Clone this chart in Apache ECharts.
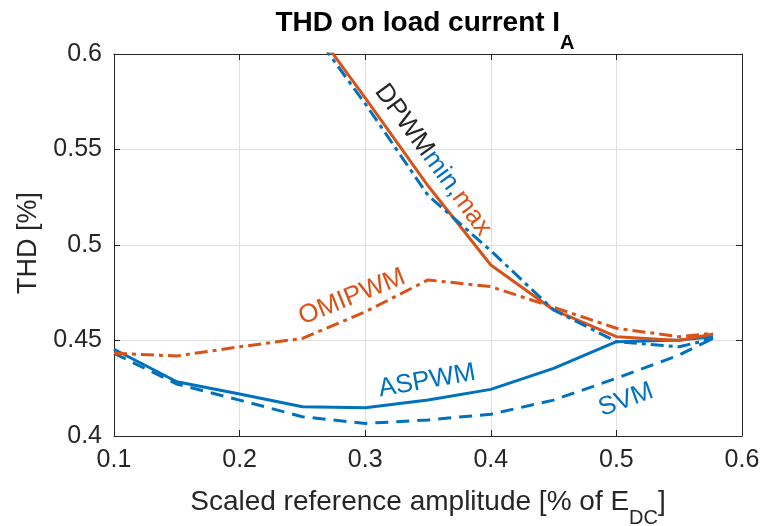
<!DOCTYPE html>
<html>
<head>
<meta charset="utf-8">
<script src="https://cdn.jsdelivr.net/npm/echarts@6/dist/echarts.min.js"></script>
<style>
html,body{margin:0;padding:0;background:#fff;}
#chart{width:764px;height:526px;}
</style>
</head>
<body>
<div id="chart"></div>
<script>
// ---- data ----
const xValues = [0.1, 0.15, 0.2, 0.25, 0.3, 0.35, 0.4, 0.45, 0.5, 0.55, 0.577];
const dpwmMax = [0.78, 0.725, 0.672, 0.622, 0.577, 0.531, 0.4895, 0.466, 0.452, 0.450, 0.4534];
const dpwmMin = [0.77, 0.718, 0.666, 0.619, 0.574, 0.526, 0.497, 0.466, 0.4494, 0.4467, 0.451];
const omipwm  = [0.4433, 0.4419, 0.4467, 0.4511, 0.465, 0.4817, 0.4782, 0.4674, 0.4564, 0.452, 0.4538];
const aspwm   = [0.4454, 0.4284, 0.422, 0.4153, 0.4148, 0.4188, 0.4244, 0.4354, 0.4494, 0.4503, 0.452];
const svm     = [0.4433, 0.4272, 0.4188, 0.4101, 0.4066, 0.4084, 0.4114, 0.4188, 0.4302, 0.4424, 0.4511];
const xTickLabels = ['0.1', '0.2', '0.3', '0.4', '0.5', '0.6'];
const yTickLabels = ['0.4', '0.45', '0.5', '0.55', '0.6'];

const BLUE = '#0072BD', ORANGE = '#D95319', INK = '#262626';
const FONT = '"Liberation Sans", Arial, Helvetica, sans-serif';
const pairs = arr => xValues.map((x, i) => [x, arr[i]]);
const xFmt = v => { const i = Math.round((v - 0.1) / 0.1); return xTickLabels[i] !== undefined ? xTickLabels[i] : ''; };
const yFmt = v => { const i = Math.round((v - 0.4) / 0.05); return yTickLabels[i] !== undefined ? yTickLabels[i] : ''; };

const chart = echarts.init(document.getElementById('chart'), null, {renderer: 'canvas'});
const deg = d => d * Math.PI / 180;
function rs(size, color, bold, extra) {
  return Object.assign({fontSize: size, fontFamily: FONT, fontWeight: bold ? 'bold' : 'normal', fill: color, color: color}, extra || {});
}
function label(x, y, angle, text, rich, size) {
  return {
    type: 'text', x: x, y: y, rotation: deg(angle), z: 100,
    style: {
      text: text, x: 0, y: 0, rich: rich,
      font: size + 'px ' + FONT, fontSize: size, fontFamily: FONT,
      align: 'center', verticalAlign: 'middle',
      textAlign: 'center', textVerticalAlign: 'middle'
    }
  };
}

const option = {
  backgroundColor: '#fff',
  animation: false,
  grid: {left: 114, right: 22, top: 54, bottom: 90, containLabel: false},
  xAxis: [{
    type: 'value', min: 0.1, max: 0.6, interval: 0.1, position: 'bottom',
    axisLine: {show: true, onZero: false, lineStyle: {color: INK, width: 1}},
    axisTick: {show: true, inside: true, length: 6, lineStyle: {color: INK}},
    axisLabel: {show: true, color: INK, fontSize: 25, fontFamily: FONT, margin: 12, formatter: xFmt},
    splitLine: {show: true, lineStyle: {color: '#dfdfdf', width: 1}}
  }, {
    type: 'value', min: 0.1, max: 0.6, interval: 0.1, position: 'top',
    axisLine: {show: true, onZero: false, lineStyle: {color: INK, width: 1}},
    axisTick: {show: true, inside: true, length: 6, lineStyle: {color: INK}},
    axisLabel: {show: false}, splitLine: {show: false}
  }],
  yAxis: [{
    type: 'value', min: 0.4, max: 0.6, interval: 0.05, position: 'left',
    axisLine: {show: true, onZero: false, lineStyle: {color: INK, width: 1}},
    axisTick: {show: true, inside: true, length: 6, lineStyle: {color: INK}},
    axisLabel: {show: true, color: INK, fontSize: 25, fontFamily: FONT, margin: 12, formatter: yFmt},
    splitLine: {show: true, lineStyle: {color: '#dfdfdf', width: 1}}
  }, {
    type: 'value', min: 0.4, max: 0.6, interval: 0.05, position: 'right',
    axisLine: {show: true, onZero: false, lineStyle: {color: INK, width: 1}},
    axisTick: {show: true, inside: true, length: 6, lineStyle: {color: INK}},
    axisLabel: {show: false}, splitLine: {show: false}
  }],
  series: [
    {name: 'SVM', type: 'line', data: pairs(svm), symbol: 'none', clip: true,
     lineStyle: {color: BLUE, width: 3, type: [13, 8]}},
    {name: 'ASPWM', type: 'line', data: pairs(aspwm), symbol: 'none', clip: true,
     lineStyle: {color: BLUE, width: 3, type: 'solid'}},
    {name: 'OMIPWM', type: 'line', data: pairs(omipwm), symbol: 'none', clip: true,
     lineStyle: {color: ORANGE, width: 3, type: [13, 5, 4, 5]}},
    {name: 'DPWMmax', type: 'line', data: pairs(dpwmMax), symbol: 'none', clip: true,
     lineStyle: {color: ORANGE, width: 3, type: 'solid'}},
    {name: 'DPWMmin', type: 'line', data: pairs(dpwmMin), symbol: 'none', clip: true,
     lineStyle: {color: BLUE, width: 3, type: [13, 5, 4, 5]}}
  ],
  graphic: [
    // title
    label(425, 23, 0, '{m|THD on load current I}{s|A}', {
      m: rs(28, '#000', true),
      s: rs(20, '#000', true, {padding: [40, 0, 0, 0]})
    }, 28),
    // x axis name
    label(428, 502, 0, '{m|Scaled reference amplitude [% of E}{s|DC}{m|]}', {
      m: rs(28, INK, false),
      s: rs(20, INK, false, {padding: [32, 0, 0, 0]})
    }, 28),
    // y axis name
    label(29, 243, 90, '{m|THD [%]}', {m: rs(27, INK, false)}, 27),
    // inline labels
    label(433, 160, -54, '{k|DPWM}{b|min,}{o|max}', {
      k: rs(26, INK, false),
      b: rs(26, BLUE, false),
      o: rs(26, ORANGE, false)
    }, 26),
    label(352, 297, 22, '{o|OMIPWM}', {o: rs(26, ORANGE, false)}, 26),
    label(427, 381, 10, '{b|ASPWM}', {b: rs(26, BLUE, false)}, 26),
    label(626, 400, 20, '{b|SVM}', {b: rs(26, BLUE, false)}, 26)
  ]
};
chart.setOption(option);
</script>
</body>
</html>
